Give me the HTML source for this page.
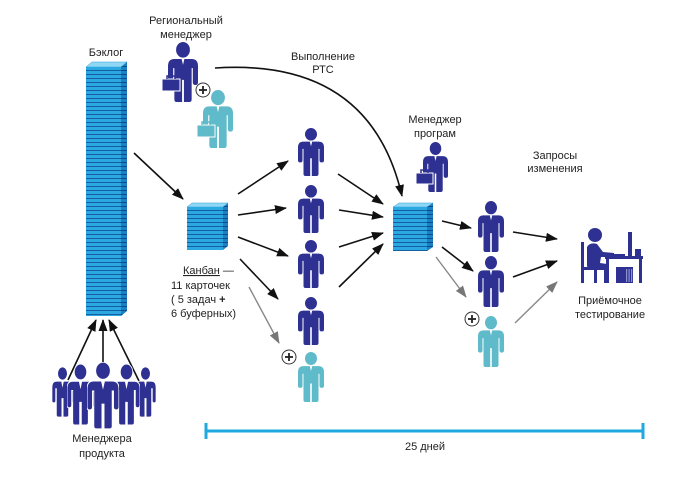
<!DOCTYPE html>
<html><head><meta charset="utf-8"><style>
html,body{margin:0;padding:0;background:#fff;}
svg{display:block;}
text{font-family:"Liberation Sans",Arial,sans-serif;font-size:11px;fill:#222;}
</style></head><body>
<svg width="680" height="480" viewBox="0 0 680 480" xmlns="http://www.w3.org/2000/svg">
<defs>
 <pattern id="st" patternUnits="userSpaceOnUse" width="10" height="4" y="67"><rect width="10" height="4" fill="#2ba8e2"/><rect y="3" width="10" height="1" fill="#15609f"/></pattern>
 <pattern id="ss" patternUnits="userSpaceOnUse" width="10" height="4" y="67"><rect width="10" height="4" fill="#1d7fc4"/><rect y="3" width="10" height="1" fill="#0c4c88"/></pattern>
 <marker id="ab" markerUnits="userSpaceOnUse" markerWidth="12" markerHeight="9" refX="11" refY="4.5" orient="auto"><path d="M0,0 L12,4.5 L0,9 Z" fill="#111"/></marker>
 <marker id="ag" markerUnits="userSpaceOnUse" markerWidth="12" markerHeight="9" refX="11" refY="4.5" orient="auto"><path d="M0,0 L12,4.5 L0,9 Z" fill="#777"/></marker>
 <symbol id="p" viewBox="0 0 26 46" preserveAspectRatio="none">
  <circle cx="13" cy="6" r="6"/>
  <path d="M5.5,13 L20.5,13 Q26,13 26,18.5 L26,31 Q26,33 23.8,33 Q21.5,33 21.5,31 L21.5,20 L20.5,20 L20.5,44 Q20.5,46 18.5,46 L13.8,46 L13.8,29 L12.2,29 L12.2,46 L7.5,46 Q5.5,46 5.5,44 L5.5,20 L4.5,20 L4.5,31 Q4.5,33 2.2,33 Q0,33 0,31 L0,18.5 Q0,13 5.5,13 Z"/>
  <path d="M11.8,13 L14.2,13 L13,17.5 Z" fill="#fff"/>
 </symbol>
</defs>

<!-- Backlog stack -->
<polygon points="86,67 121,67 127,62 92,62" fill="#8fd8f5" stroke="#2a9fd8" stroke-width="0.5"/>
<rect x="86" y="67" width="35" height="249" fill="url(#st)"/>
<polygon points="121,67 127,62 127,311 121,316" fill="url(#ss)"/>

<!-- Kanban stack -->
<polygon points="187,207 223,207 228,203 192,203" fill="#8fd8f5" stroke="#2a9fd8" stroke-width="0.5"/>
<rect x="187" y="207" width="36" height="43" fill="url(#st)"/>
<polygon points="223,207 228,203 228,246 223,250" fill="url(#ss)"/>

<!-- Program stack -->
<polygon points="393,207 427,207 433,203 399,203" fill="#8fd8f5" stroke="#2a9fd8" stroke-width="0.5"/>
<rect x="393" y="207" width="34" height="44" fill="url(#st)"/>
<polygon points="427,207 433,203 433,247 427,251" fill="url(#ss)"/>

<!-- Arrows -->
<g stroke="#111" stroke-width="1.6" fill="none" marker-end="url(#ab)">
 <line x1="134" y1="153" x2="183" y2="199"/>
 <line x1="238" y1="194" x2="288" y2="161"/>
 <line x1="238" y1="215" x2="286" y2="208"/>
 <line x1="238" y1="237" x2="288" y2="256"/>
 <line x1="240" y1="259" x2="278" y2="299"/>
 <line x1="338" y1="174" x2="383" y2="204"/>
 <line x1="339" y1="210" x2="383" y2="217"/>
 <line x1="339" y1="247" x2="383" y2="233"/>
 <line x1="339" y1="287" x2="383" y2="244"/>
 <path d="M215,68 Q370,58 402,196"/>
 <line x1="442" y1="221" x2="471" y2="228"/>
 <line x1="442" y1="247" x2="473" y2="271"/>
 <line x1="513" y1="232" x2="557" y2="239"/>
 <line x1="513" y1="277" x2="557" y2="261"/>
 <line x1="68" y1="380" x2="96" y2="320"/>
 <line x1="103" y1="366" x2="103" y2="320"/>
 <line x1="139" y1="381" x2="109" y2="320"/>
</g>
<g stroke="#888" stroke-width="1.4" fill="none" marker-end="url(#ag)">
 <line x1="249" y1="287" x2="279" y2="343"/>
 <line x1="436" y1="257" x2="466" y2="297"/>
 <line x1="515" y1="323" x2="557" y2="282"/>
</g>

<!-- Regional managers -->
<use href="#p" x="168" y="42" width="30" height="60" fill="#2e3192"/>
<rect x="162" y="79" width="18" height="12" fill="#2e3192" stroke="#fff" stroke-width="1"/>
<path d="M167,79 L167,76 L175,76 L175,79" stroke="#2e3192" stroke-width="1.5" fill="none"/>
<use href="#p" x="203" y="90" width="30" height="58" fill="#5fbac9"/>
<rect x="197" y="125" width="18" height="12" fill="#5fbac9" stroke="#fff" stroke-width="1"/>
<path d="M202,125 L202,122 L210,122 L210,125" stroke="#5fbac9" stroke-width="1.5" fill="none"/>

<!-- Program manager -->
<use href="#p" x="423" y="142" width="25" height="50" fill="#2e3192"/>
<rect x="416" y="173" width="17" height="11" fill="#2e3192" stroke="#fff" stroke-width="1"/>
<path d="M421,173 L421,170 L428,170 L428,173" stroke="#2e3192" stroke-width="1.5" fill="none"/>

<!-- Middle column -->
<use href="#p" x="298" y="128" width="26" height="48" fill="#2e3192"/>
<use href="#p" x="298" y="185" width="26" height="48" fill="#2e3192"/>
<use href="#p" x="298" y="240" width="26" height="48" fill="#2e3192"/>
<use href="#p" x="298" y="297" width="26" height="48" fill="#2e3192"/>
<use href="#p" x="298" y="352" width="26" height="50" fill="#5fbac9"/>

<!-- Right column -->
<use href="#p" x="478" y="201" width="26" height="51" fill="#2e3192"/>
<use href="#p" x="478" y="256" width="26" height="51" fill="#2e3192"/>
<use href="#p" x="478" y="316" width="26" height="51" fill="#5fbac9"/>

<!-- Plus circles -->
<g stroke="#333" stroke-width="1" fill="#fff">
 <circle cx="203" cy="90" r="7"/>
 <circle cx="289" cy="357" r="7"/>
 <circle cx="472" cy="319" r="7"/>
</g>
<g stroke="#222" stroke-width="1.8">
 <line x1="199" y1="90" x2="207" y2="90"/><line x1="203" y1="86" x2="203" y2="94"/>
 <line x1="285" y1="357" x2="293" y2="357"/><line x1="289" y1="353" x2="289" y2="361"/>
 <line x1="468" y1="319" x2="476" y2="319"/><line x1="472" y1="315" x2="472" y2="323"/>
</g>

<!-- Product managers group -->
<g stroke="#fff" stroke-width="0.8">
 <use href="#p" x="52" y="367" width="21" height="50" fill="#2e3192"/>
 <use href="#p" x="135" y="367" width="21" height="50" fill="#2e3192"/>
 <use href="#p" x="67" y="364" width="27" height="61" fill="#2e3192"/>
 <use href="#p" x="113" y="364" width="27" height="61" fill="#2e3192"/>
 <use href="#p" x="87" y="362" width="32" height="67" fill="#2e3192"/>
</g>

<!-- Tester -->
<g fill="#2e3192">
 <circle cx="595" cy="235" r="7"/>
 <rect x="581" y="242" width="3" height="41"/>
 <rect x="581" y="267" width="16" height="3"/>
 <rect x="594" y="267" width="3" height="16"/>
 <path d="M587,247 Q590,242 597,244 L603,252 L614,253 L614,257 L601,257 L600,263 L607,264 Q609,265 609,268 L609,283 L604,283 L604,270 L592,270 Q587,270 587,265 Z"/>
 <rect x="605" y="256" width="38" height="3"/>
 <rect x="606" y="258" width="3" height="25"/>
 <rect x="639" y="258" width="3" height="25"/>
 <rect x="628" y="232" width="4" height="24"/>
 <rect x="612" y="254" width="13" height="2"/>
 <rect x="635" y="249" width="6" height="7"/>
 <rect x="616" y="267" width="17" height="16"/>
</g>
<g fill="#8f92d0"><rect x="626" y="269" width="1.2" height="13"/><rect x="628.5" y="269" width="1.2" height="13"/><rect x="631" y="269" width="1.2" height="13"/></g>

<!-- Timeline -->
<g stroke="#1fa9df" stroke-width="3">
 <line x1="206" y1="431" x2="643" y2="431"/>
 <line x1="206" y1="423" x2="206" y2="439"/>
 <line x1="643" y1="423" x2="643" y2="439"/>
</g>

<!-- Labels -->
<g text-anchor="middle">
 <text x="186" y="24">Региональный</text>
 <text x="186" y="38">менеджер</text>
 <text x="106" y="56">Бэклог</text>
 <text x="323" y="60">Выполнение</text>
 <text x="323" y="73">РТС</text>
 <text x="435" y="123">Менеджер</text>
 <text x="435" y="137">програм</text>
 <text x="555" y="159">Запросы</text>
 <text x="555" y="172">изменения</text>
 <text x="610" y="304">Приёмочное</text>
 <text x="610" y="318">тестирование</text>
 <text x="102" y="442">Менеджера</text>
 <text x="102" y="457">продукта</text>
 <text x="425" y="450">25 дней</text>
</g>
<text x="183" y="274"><tspan text-decoration="underline">Канбан</tspan> —</text>
<text x="171" y="289">11 карточек</text>
<text x="171" y="303">( 5 задач <tspan font-weight="bold">+</tspan></text>
<text x="171" y="317">6 буферных)</text>
</svg>
</body></html>
